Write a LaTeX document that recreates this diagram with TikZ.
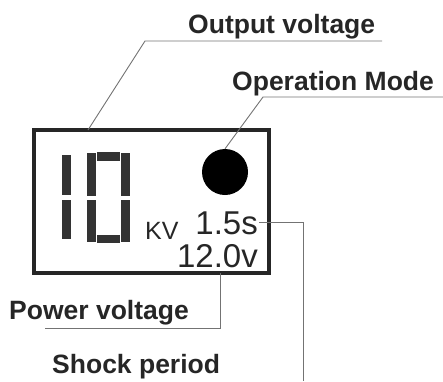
\documentclass[tikz,border=0pt]{standalone}
\usepackage{fontspec}
\setmainfont{Liberation Sans}
\begin{document}
\begin{tikzpicture}[x=1pt,y=-1pt,
  lbl/.style={font=\fontsize{26.5}{28}\selectfont\bfseries, text=black!85, inner sep=0pt},
  lcd/.style={font=\fontsize{33}{35}\selectfont, text=black!85, inner sep=0pt},
  leader/.style={draw=black!55, line width=0.9pt},
  seg/.style={fill=black!80, draw=none},
  frame/.style={draw=black!85, line width=4pt}]
\useasboundingbox (0,0) rectangle (443,381);
% display frame
\draw[frame] (34,130) rectangle (269,273);
% seven-segment "1"
\fill[seg] (62,155) rectangle (71,195);
\fill[seg] (62,200) rectangle (71,239);
% seven-segment "0"
\fill[seg] (87,153) rectangle (96,196);
\fill[seg] (87,200) rectangle (96,242);
\fill[seg] (121,153) rectangle (130,196);
\fill[seg] (121,200) rectangle (130,242);
\fill[seg] (97,152) rectangle (120,161);
\fill[seg] (97,235) rectangle (120,243);
% mode dot
\node[circle, fill=black, minimum size=46pt, inner sep=0pt] (dot) at (225,172) {};
% texts inside display
\node[font=\fontsize{25}{27}\selectfont, text=black!85, inner sep=0pt, anchor=base west] (kv) at (145,239) {KV};
\node[lcd, anchor=base east] (period) at (258,234) {1.5s};
\node[lcd, anchor=base east] (power) at (258,267) {12.0v};
% labels
\node[lbl, anchor=base west] (lout) at (188,33) {Output voltage};
\node[lbl, anchor=base west] (lmode) at (232,90) {Operation Mode};
\node[lbl, anchor=base west] (lpow) at (9,319) {Power voltage};
\node[lbl, anchor=base west] (lshock) at (52,373) {Shock period};
% leader coordinates
\coordinate (o1) at (382,41);
\coordinate (o2) at (145,41);
\coordinate (o3) at (88,130);
\coordinate (m1) at (443,97);
\coordinate (m2) at (263,97);
\coordinate (p1) at (220,273);
\coordinate (p2) at (220,328);
\coordinate (p3) at (45,328);
\coordinate (s0) at (259,222);
\coordinate (s1) at (303,222);
\coordinate (s2) at (303,381);
% leaders
\draw[leader] (o1) -- (o2) -- (o3);
\draw[leader] (m1) -- (m2) -- (dot.north);
\draw[leader] (p1) -- (p2) -- (p3);
\draw[leader] (s0) -- (s1) -- (s2);
\end{tikzpicture}
\end{document}
